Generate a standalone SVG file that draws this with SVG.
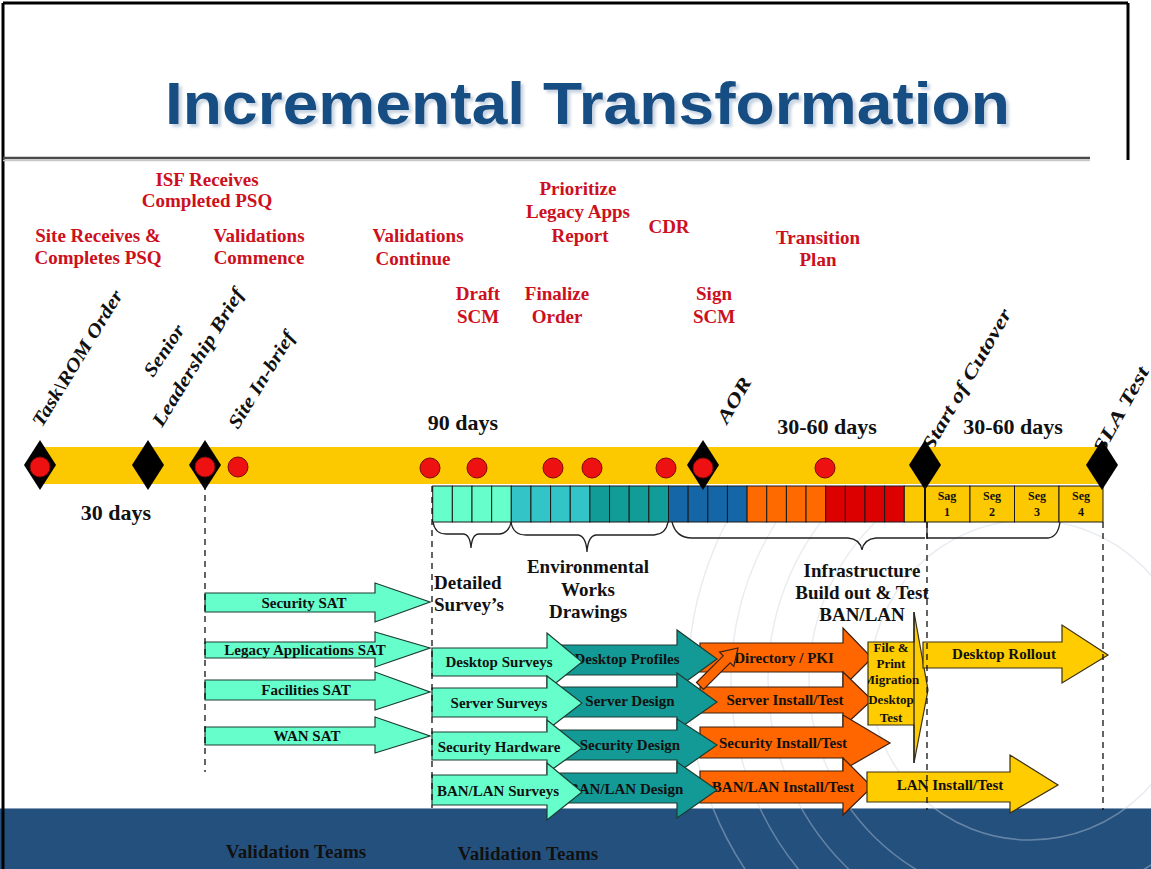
<svg xmlns="http://www.w3.org/2000/svg" width="1151" height="869" viewBox="0 0 1151 869">
<style>
.red{font-family:"Liberation Serif",serif;font-weight:bold;font-size:19px;fill:#cc1020;text-anchor:middle}
.blk{font-family:"Liberation Serif",serif;font-weight:bold;font-size:19px;fill:#111;text-anchor:middle}
.days{font-family:"Liberation Serif",serif;font-weight:bold;font-size:22px;fill:#111;text-anchor:middle}
.diag{font-family:"Liberation Serif",serif;font-style:italic;font-weight:bold;font-size:19px;fill:#111}
.at{font-family:"Liberation Serif",serif;font-weight:bold;font-size:15px;fill:#111;text-anchor:middle}
.sm{font-family:"Liberation Serif",serif;font-weight:bold;font-size:12px;fill:#111;text-anchor:middle}
.fp{font-family:"Liberation Serif",serif;font-weight:bold;font-size:13px;fill:#111;text-anchor:middle}
.aqua{fill:#66ffcc;stroke:#1d3d33;stroke-width:1.2}
.teal{fill:#139a96;stroke:#1d3d33;stroke-width:1.2}
.orng{fill:#ff6600;stroke:#3a2010;stroke-width:1.2}
.yel{fill:#ffcc00;stroke:#3a3010;stroke-width:1.2}
.cell{stroke:#1a1a1a;stroke-width:1}
.dash{stroke:#111;stroke-width:1.3;stroke-dasharray:6,5;fill:none}
.brace{stroke:#222;stroke-width:1.3;fill:none}
.dia{fill:#000}
.dot{fill:#ee1111;stroke:#7a0a0a;stroke-width:1}
.arc{fill:none;stroke:#c9d3df;stroke-width:1.5;opacity:0.4}
</style>
<defs>
<clipPath id="fpclip"><polygon points="868,642 914,642 914,612 928,690 914,763 914,725 868,725"/></clipPath>
<clipPath id="arcclip"><rect x="0" y="495" width="1151" height="374"/></clipPath>
<filter id="tshadow" x="-5%" y="-20%" width="110%" height="150%">
<feDropShadow dx="3" dy="3" stdDeviation="1.5" flood-color="#9fb4cc" flood-opacity="0.6"/>
</filter>
</defs>
<rect x="0" y="0" width="1151" height="869" fill="#ffffff"/>
<rect x="0" y="808" width="1151" height="61" fill="#24507e"/>
<line x1="0" y1="808.5" x2="1151" y2="808.5" stroke="#8aa0b8" stroke-width="1"/>
<g id="background-arcs" clip-path="url(#arcclip)">
<circle class="arc" cx="1030" cy="680" r="160"/>
<circle class="arc" cx="1030" cy="680" r="221"/>
<circle class="arc" cx="1030" cy="680" r="262"/>
<circle class="arc" cx="1030" cy="680" r="299"/>
<circle class="arc" cx="1030" cy="680" r="342"/>
</g>
<g id="frame">
<line x1="3" y1="3" x2="1128" y2="3" stroke="#000" stroke-width="3"/>
<line x1="3" y1="3" x2="3" y2="869" stroke="#000" stroke-width="3"/>
<line x1="1128" y1="3" x2="1128" y2="160" stroke="#000" stroke-width="3"/>
<line x1="3" y1="158" x2="1090" y2="158" stroke="#4a4a4a" stroke-width="2.5"/>
<line x1="3" y1="160.5" x2="1090" y2="160.5" stroke="#c8c8c8" stroke-width="1.5"/>
</g>
<g id="title">
<text x="165" y="124" font-family="Liberation Sans, Arial, sans-serif" font-weight="bold" font-size="60" fill="#124d83" textLength="845" lengthAdjust="spacingAndGlyphs" filter="url(#tshadow)">Incremental Transformation</text>
</g>
<g id="milestone-labels">
<text class="red" x="207" y="186">ISF Receives</text>
<text class="red" x="207" y="207">Completed PSQ</text>
<text class="red" x="98" y="242">Site Receives &amp;</text>
<text class="red" x="98" y="264">Completes PSQ</text>
<text class="red" x="259" y="242">Validations</text>
<text class="red" x="259" y="264">Commence</text>
<text class="red" x="418" y="242">Validations</text>
<text class="red" x="413" y="265">Continue</text>
<text class="red" x="578" y="195">Prioritize</text>
<text class="red" x="578" y="218">Legacy Apps</text>
<text class="red" x="580" y="242">Report</text>
<text class="red" x="669" y="233">CDR</text>
<text class="red" x="818" y="244">Transition</text>
<text class="red" x="818" y="266">Plan</text>
<text class="red" x="478" y="300">Draft</text>
<text class="red" x="478" y="323">SCM</text>
<text class="red" x="557" y="300">Finalize</text>
<text class="red" x="557" y="323">Order</text>
<text class="red" x="714" y="300">Sign</text>
<text class="red" x="714" y="323">SCM</text>
</g>
<g id="event-labels">
<text class="diag" transform="translate(42,428) rotate(-58.5)" textLength="156" lengthAdjust="spacingAndGlyphs">Task\ROM Order</text>
<text class="diag" transform="translate(153,378) rotate(-56)" textLength="58" lengthAdjust="spacingAndGlyphs">Senior</text>
<text class="diag" transform="translate(162,428) rotate(-58.5)" textLength="158" lengthAdjust="spacingAndGlyphs">Leadership  Brief</text>
<text class="diag" transform="translate(238,430) rotate(-58.5)" textLength="110" lengthAdjust="spacingAndGlyphs">Site In-brief</text>
<text class="diag" transform="translate(727,425) rotate(-60)" textLength="50" lengthAdjust="spacingAndGlyphs">AOR</text>
<text class="diag" transform="translate(932,452) rotate(-60)" textLength="160" lengthAdjust="spacingAndGlyphs">Start of Cutover</text>
<text class="diag" transform="translate(1103,455) rotate(-61)" textLength="96" lengthAdjust="spacingAndGlyphs">SLA Test</text>
<text class="days" x="463" y="430">90 days</text>
<text class="days" x="827" y="434">30-60 days</text>
<text class="days" x="1013" y="434">30-60 days</text>
<text class="days" x="116" y="520">30 days</text>
</g>
<g id="timeline-bar">
<rect x="42" y="447" width="1063" height="37" fill="#fcc800"/>
</g>
<g id="phase-cells">
<rect class="cell" x="432.7" y="486" width="19.65" height="36" fill="#66ffcc"/>
<rect class="cell" x="452.35" y="486" width="19.65" height="36" fill="#66ffcc"/>
<rect class="cell" x="472" y="486" width="19.65" height="36" fill="#66ffcc"/>
<rect class="cell" x="491.65" y="486" width="19.65" height="36" fill="#66ffcc"/>
<rect class="cell" x="511.3" y="486" width="19.65" height="36" fill="#33c4c8"/>
<rect class="cell" x="530.95" y="486" width="19.65" height="36" fill="#33c4c8"/>
<rect class="cell" x="550.6" y="486" width="19.65" height="36" fill="#33c4c8"/>
<rect class="cell" x="570.25" y="486" width="19.65" height="36" fill="#33c4c8"/>
<rect class="cell" x="589.9" y="486" width="19.65" height="36" fill="#119c98"/>
<rect class="cell" x="609.55" y="486" width="19.65" height="36" fill="#119c98"/>
<rect class="cell" x="629.2" y="486" width="19.65" height="36" fill="#119c98"/>
<rect class="cell" x="648.85" y="486" width="19.65" height="36" fill="#119c98"/>
<rect class="cell" x="668.5" y="486" width="19.65" height="36" fill="#1566a6"/>
<rect class="cell" x="688.15" y="486" width="19.65" height="36" fill="#1566a6"/>
<rect class="cell" x="707.8" y="486" width="19.65" height="36" fill="#1566a6"/>
<rect class="cell" x="727.45" y="486" width="19.65" height="36" fill="#1566a6"/>
<rect class="cell" x="747.1" y="486" width="19.65" height="36" fill="#ff6a00"/>
<rect class="cell" x="766.75" y="486" width="19.65" height="36" fill="#ff6a00"/>
<rect class="cell" x="786.4" y="486" width="19.65" height="36" fill="#ff6a00"/>
<rect class="cell" x="806.05" y="486" width="19.65" height="36" fill="#ff6a00"/>
<rect class="cell" x="825.7" y="486" width="19.65" height="36" fill="#dd0000"/>
<rect class="cell" x="845.35" y="486" width="19.65" height="36" fill="#dd0000"/>
<rect class="cell" x="865" y="486" width="19.65" height="36" fill="#dd0000"/>
<rect class="cell" x="884.65" y="486" width="19.65" height="36" fill="#dd0000"/>
<rect class="cell" x="904.3" y="486" width="20.7" height="36" fill="#fcc800"/>
<rect class="cell" x="925" y="486" width="45" height="36" fill="#fcc800"/>
<rect class="cell" x="970" y="486" width="44.5" height="36" fill="#fcc800"/>
<rect class="cell" x="1014.5" y="486" width="44.5" height="36" fill="#fcc800"/>
<rect class="cell" x="1059" y="486" width="44" height="36" fill="#fcc800"/>
<text class="sm" x="947" y="500">Sag</text><text class="sm" x="947" y="516">1</text>
<text class="sm" x="992" y="500">Seg</text><text class="sm" x="992" y="516">2</text>
<text class="sm" x="1037" y="500">Seg</text><text class="sm" x="1037" y="516">3</text>
<text class="sm" x="1081" y="500">Seg</text><text class="sm" x="1081" y="516">4</text>
</g>
<g id="milestones">
<polygon class="dia" points="40,440 56,465 40,490 24,465"/>
<polygon class="dia" points="148,440 164,465 148,490 132,465"/>
<polygon class="dia" points="205,440 221,465 205,490 189,465"/>
<polygon class="dia" points="703,440 719,465 703,490 687,465"/>
<polygon class="dia" points="925,440 941,465 925,490 909,465"/>
<polygon class="dia" points="1102,440 1118,465 1102,490 1086,465"/>
<circle class="dot" cx="40" cy="467" r="10"/>
<circle class="dot" cx="205" cy="467" r="10"/>
<circle class="dot" cx="238" cy="467" r="10"/>
<circle class="dot" cx="430" cy="468" r="10"/>
<circle class="dot" cx="477" cy="468" r="10"/>
<circle class="dot" cx="553" cy="468" r="10"/>
<circle class="dot" cx="592" cy="468" r="10"/>
<circle class="dot" cx="666" cy="468" r="10"/>
<circle class="dot" cx="703" cy="468" r="10"/>
<circle class="dot" cx="825" cy="468" r="10"/>
</g>
<g id="braces">
<path class="brace" d="M433,522 Q435,534 446,534 L463,534 Q470,534 471,548 Q472,534 479,534 L500,534 Q509,533 511,522"/>
<path class="brace" d="M511,522 Q513,535 526,535 L578,535 Q586,536 587,552 Q588,536 596,535 L654,535 Q666,534 668,522"/>
<path class="brace" d="M672,522 Q676,538 692,538 L848,538 Q860,539 862,550 Q864,539 876,538 L925,538"/>
<path class="brace" d="M927,522 L927,538 L1048,538 Q1058,537 1060,522"/>
</g>
<g id="phase-labels">
<text class="blk" x="434" y="589" style="text-anchor:start">Detailed</text>
<text class="blk" x="434" y="611" style="text-anchor:start">Survey’s</text>
<text class="blk" x="588" y="573">Environmental</text>
<text class="blk" x="588" y="596">Works</text>
<text class="blk" x="588" y="618">Drawings</text>
<text class="blk" x="862" y="577">Infrastructure</text>
<text class="blk" x="862" y="599">Build out &amp; Test</text>
<text class="blk" x="862" y="621">BAN/LAN</text>
</g>
<g id="install-arrows">
<polygon class="orng" points="700,643 843,643 843,628 872,658 843,687 843,672 700,672"/>
<text class="at" x="784" y="663">Directory / PKI</text>
<polygon class="orng" points="700,687 843,687 843,672 872,700 843,727 843,713 700,713"/>
<text class="at" x="785" y="705">Server Install/Test</text>
<polygon class="orng" points="700,727 843,727 843,715 890,743 843,770 843,758 700,758"/>
<text class="at" x="783" y="748">Security Install/Test</text>
<polygon class="orng" points="700,771 843,771 843,758 872,787 843,815 843,803 700,803"/>
<text class="at" x="783" y="792">BAN/LAN Install/Test</text>
</g>
<g id="design-arrows">
<polygon class="teal" points="560,645 677,645 677,630 717,659 677,688 677,675 560,675"/>
<text class="at" x="627" y="664">Desktop Profiles</text>
<polygon class="teal" points="560,687 677,687 677,673 717,702 677,730 677,717 560,717"/>
<text class="at" x="630" y="706">Server Design</text>
<polygon class="teal" points="560,730 677,730 677,719 717,745 677,773 677,760 560,760"/>
<text class="at" x="630" y="750">Security Design</text>
<polygon class="teal" points="560,773 677,773 677,762 717,790 677,818 677,803 560,803"/>
<text class="at" x="626" y="794">BAN/LAN Design</text>
</g>
<g id="link-arrow">
<polygon class="orng" points="696.5,682.5 723.2,655.8 719.6,652.2 738,648 733.8,666.4 730.2,662.8 703.5,689.5"/>
</g>
<g id="survey-arrows">
<polygon class="aqua" points="432,648 547,648 547,633 582,662 547,690 547,676 432,676"/>
<text class="at" x="499" y="667">Desktop Surveys</text>
<polygon class="aqua" points="432,688 547,688 547,676 582,703 547,730 547,717 432,717"/>
<text class="at" x="499" y="708">Server Surveys</text>
<polygon class="aqua" points="432,732 547,732 547,720 582,748 547,773 547,760 432,760"/>
<text class="at" x="499" y="752">Security Hardware</text>
<polygon class="aqua" points="432,775 547,775 547,763 582,792 547,820 547,805 432,805"/>
<text class="at" x="498" y="796">BAN/LAN Surveys</text>
</g>
<g id="sat-arrows">
<polygon class="aqua" points="205,593 375,593 375,583 430,602 375,622 375,612 205,612"/>
<text class="at" x="304" y="608">Security SAT</text>
<polygon class="aqua" points="205,642 375,642 375,632 430,648 375,667 375,658 205,658"/>
<text class="at" x="305" y="655">Legacy Applications SAT</text>
<polygon class="aqua" points="205,680 375,680 375,672 430,692 375,710 375,700 205,700"/>
<text class="at" x="306" y="695">Facilities SAT</text>
<polygon class="aqua" points="205,727 375,727 375,717 430,736 375,753 375,745 205,745"/>
<text class="at" x="307" y="741">WAN SAT</text>
</g>
<g id="rollout-arrows">
<polygon class="yel" points="868,642 914,642 914,612 928,690 914,763 914,725 868,725"/>
<line x1="914" y1="612" x2="914" y2="763" stroke="#222" stroke-width="1.3"/>
<g clip-path="url(#fpclip)">
<text class="fp" x="891" y="652">File &amp;</text>
<text class="fp" x="891" y="668">Print</text>
<text class="fp" x="891" y="684">Migration</text>
<text class="fp" x="891" y="704">Desktop</text>
<text class="fp" x="891" y="722">Test</text>
</g>
<polygon class="yel" points="923,642 1062,642 1062,625 1108,655 1062,683 1062,668 923,668"/>
<text class="at" x="1004" y="659">Desktop  Rollout</text>
<polygon class="yel" points="867,772 1010,772 1010,755 1058,785 1010,813 1010,802 867,802"/>
<text class="at" x="950" y="790">LAN Install/Test</text>
</g>
<g id="connectors">
<line class="dash" x1="205" y1="484" x2="205" y2="772"/>
<line class="dash" x1="432" y1="486" x2="432" y2="808"/>
<line class="dash" x1="927" y1="522" x2="927" y2="810"/>
<line class="dash" x1="1103" y1="522" x2="1103" y2="810"/>
<line x1="925" y1="486" x2="925" y2="522" stroke="#111" stroke-width="2"/>
</g>
<g id="footer">
<text class="blk" x="296" y="858">Validation Teams</text>
<text class="blk" x="528" y="860">Validation Teams</text>
</g>
</svg>
